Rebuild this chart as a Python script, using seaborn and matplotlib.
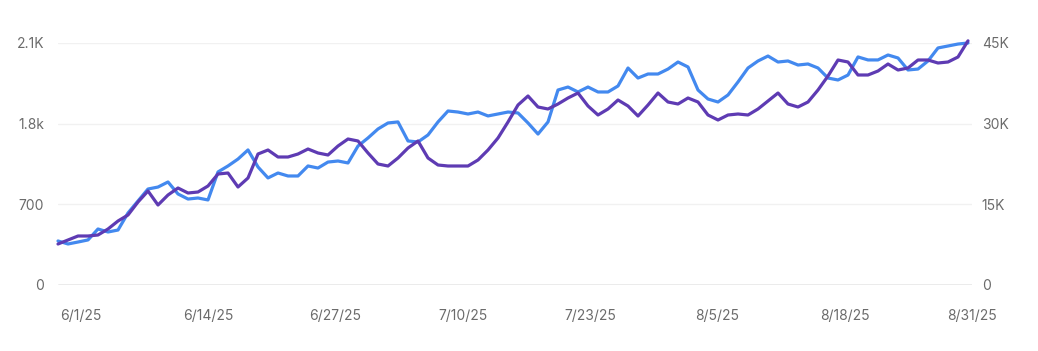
import numpy as np
import pandas as pd
import matplotlib
matplotlib.use("Agg")
import matplotlib.pyplot as plt
import seaborn as sns
from matplotlib.ticker import FixedLocator, FixedFormatter

# ---- data ----
dates = pd.date_range("2025-06-01", "2025-08-31", freq="D")
blue_values = [382, 356, 373, 391, 486, 460, 477, 625, 729, 833, 850, 894, 790, 746, 755, 738,
               981, 1033, 1093, 1172, 1024, 929, 972, 946, 946, 1033, 1015, 1067, 1076, 1059,
               1206, 1276, 1354, 1406, 1415, 1250, 1241, 1302, 1415, 1510, 1501, 1484, 1501,
               1467, 1484, 1501, 1493, 1406, 1310, 1415, 1692, 1718, 1675, 1718, 1675, 1675,
               1727, 1883, 1796, 1831, 1831, 1874, 1935, 1892, 1692, 1614, 1588, 1649, 1762,
               1883, 1944, 1987, 1935, 1944, 1909, 1918, 1883, 1796, 1779, 1822, 1979, 1953,
               1953, 1996, 1970, 1866, 1874, 1944, 2057, 2074, 2091, 2100]
purple_values = [7624, 8368, 9112, 9112, 9298, 10413, 11901, 13017, 15434, 17479, 14876, 16736,
                 18037, 17107, 17293, 18409, 20640, 20826, 18223, 19897, 24360, 25103, 23802,
                 23802, 24360, 25289, 24545, 24174, 25847, 27149, 26777, 24545, 22500, 22128,
                 23616, 25475, 26777, 23616, 22314, 22128, 22128, 22128, 23244, 25103, 27335,
                 30310, 33471, 35145, 33099, 32727, 33657, 34773, 35702, 33285, 31612, 32727,
                 34401, 33285, 31426, 33471, 35702, 34029, 33657, 34773, 34029, 31612, 30682,
                 31612, 31798, 31612, 32727, 34215, 35702, 33657, 33099, 34029, 36260, 38863,
                 41839, 41467, 39050, 39050, 39793, 41095, 39979, 40351, 41839, 41839, 41281,
                 41467, 42397, 45400]
x_labels = ["6/1/25", "6/14/25", "6/27/25", "7/10/25", "7/23/25", "8/5/25", "8/18/25", "8/31/25"]
left_ticks = [0, 700, 1400, 2100]
left_labels = ["0", "700", "1.8k", "2.1K"]
right_ticks = [0, 15000, 30000, 45000]
right_labels = ["0", "15K", "30K", "45K"]

df = pd.DataFrame({"day": np.arange(len(dates)), "blue": blue_values, "purple": purple_values})

sns.set_theme(style="white")
plt.rcParams["font.family"] = ["Inter", "DejaVu Sans"]

W, H = 1038, 351
fig = plt.figure(figsize=(W / 100, H / 100), dpi=100)
ax = fig.add_axes([58 / W, 1 - 285 / H, (972 - 58) / W, (285 - 43) / H])
ax2 = ax.twinx()

blue = "#4389ef"
purple = "#5e3bb3"

sns.lineplot(data=df, x="day", y="blue", ax=ax, color=blue, linewidth=2.3, clip_on=False,
             solid_joinstyle="round", solid_capstyle="round")
sns.lineplot(data=df, x="day", y="purple", ax=ax2, color=purple, linewidth=2.3, clip_on=False,
             solid_joinstyle="round", solid_capstyle="round")

ax.set_xlim(0, 91.4)
ax.set_ylim(0, 2100)
ax2.set_ylim(0, 45000)

for a in (ax, ax2):
    for s in a.spines.values():
        s.set_visible(False)
    a.set_xlabel("")
    a.set_ylabel("")
    a.grid(False)

# gridlines
for t in left_ticks[1:]:
    ax.axhline(t, color="#f1f1f1", linewidth=1.0, zorder=0)
ax.axhline(0, color="#9a9a9a", linewidth=1.0, zorder=1)

ax.yaxis.set_major_locator(FixedLocator(left_ticks))
ax.yaxis.set_major_formatter(FixedFormatter(left_labels))
ax2.yaxis.set_major_locator(FixedLocator(right_ticks))
ax2.yaxis.set_major_formatter(FixedFormatter(right_labels))

tick_pos = np.linspace(2.3, 91.4, len(x_labels))
ax.xaxis.set_major_locator(FixedLocator(tick_pos))
ax.xaxis.set_major_formatter(FixedFormatter(x_labels))

ax.tick_params(axis="x", length=0, pad=17, labelsize=10, labelcolor="#6b6b6b")
ax.tick_params(axis="y", length=0, pad=10, labelsize=10, labelcolor="#6b6b6b")
ax2.tick_params(axis="y", length=0, pad=7, labelsize=10, labelcolor="#6b6b6b")

ax.set_zorder(ax2.get_zorder() - 1)
ax2.patch.set_visible(False)

fig.savefig("out.png", dpi=100, facecolor="white")
